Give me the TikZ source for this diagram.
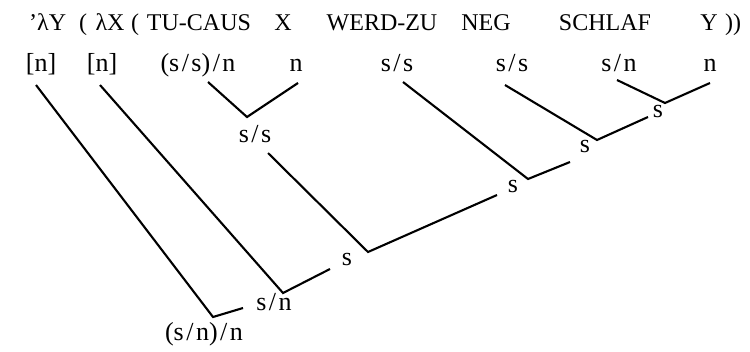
\documentclass[tikz,border=0pt]{standalone}
\usepackage{fontspec}
\setmainfont{Liberation Serif}
\newcommand{\sls}{\kern2.5pt/\kern2.5pt}
\begin{document}
\begin{tikzpicture}[x=1pt,y=-1pt]
\tikzset{
  wordtop/.style={font=\fontsize{24}{28}\selectfont, inner sep=0pt, anchor=base},
  lbl/.style={font=\fontsize{26}{30}\selectfont, inner sep=0pt, anchor=mid},
  branch/.style={line width=2.1pt, line join=miter, line cap=butt}
}
\useasboundingbox (0,0) rectangle (750,351);
% top line of words
\node[wordtop,anchor=base west] (w1) at (29,30) {'λY};
\node[wordtop] (w2) at (83,30) {(};
\node[wordtop] (w3) at (110,30) {λX};
\node[wordtop] (w4) at (135,30) {(};
\node[wordtop] (w5) at (199,30) {TU-CAUS};
\node[wordtop] (w6) at (283,30) {X};
\node[wordtop] (w7) at (382,30) {WERD-ZU};
\node[wordtop] (w8) at (486,30) {NEG};
\node[wordtop] (w9) at (605,30) {SCHLAF};
\node[wordtop] (w10) at (709,30) {Y};
\node[wordtop] (w11) at (733,30) {))};
% category row
\node[lbl] (c1) at (41,69) {[n]};
\node[lbl] (c2) at (102,69) {[n]};
\node[lbl] (c3) at (198,69) {(s\sls s)\sls n};
\node[lbl] (c4) at (296,69) {n};
\node[lbl] (c5) at (397,69) {s\sls s};
\node[lbl] (c6) at (512,69) {s\sls s};
\node[lbl] (c7) at (619,69) {s\sls n};
\node[lbl] (c8) at (710,69) {n};
% derived categories
\node[lbl] (d1) at (658,115) {s};
\node[lbl] (d2) at (585,150) {s};
\node[lbl] (d3) at (513,190) {s};
\node[lbl] (d4) at (255,140) {s\sls s};
\node[lbl] (d5) at (347,263) {s};
\node[lbl] (d6) at (274,308) {s\sls n};
\node[lbl] (d7) at (204,338) {(s\sls n)\sls n};
% connector points
\coordinate (a0) at (36,85);   \coordinate (ja) at (213,317); \coordinate (a1) at (243,308);
\coordinate (b0) at (100,85);  \coordinate (jb) at (283,293); \coordinate (b1) at (330,269);
\coordinate (e0) at (208,82);  \coordinate (je) at (247,117); \coordinate (e1) at (298,83);
\coordinate (f0) at (268,153); \coordinate (jf) at (368,252); \coordinate (f1) at (497,195);
\coordinate (g0) at (403,82);  \coordinate (jg) at (528,179); \coordinate (g1) at (570,162);
\coordinate (h0) at (505,85);  \coordinate (jh) at (597,140); \coordinate (h1) at (648,117);
\coordinate (k0) at (617,80);  \coordinate (jk) at (665,103); \coordinate (k1) at (710,83);
\draw[branch] (a0) -- (ja) -- (a1);
\draw[branch] (b0) -- (jb) -- (b1);
\draw[branch] (e0) -- (je) -- (e1);
\draw[branch] (f0) -- (jf) -- (f1);
\draw[branch] (g0) -- (jg) -- (g1);
\draw[branch] (h0) -- (jh) -- (h1);
\draw[branch] (k0) -- (jk) -- (k1);
\end{tikzpicture}
\end{document}
